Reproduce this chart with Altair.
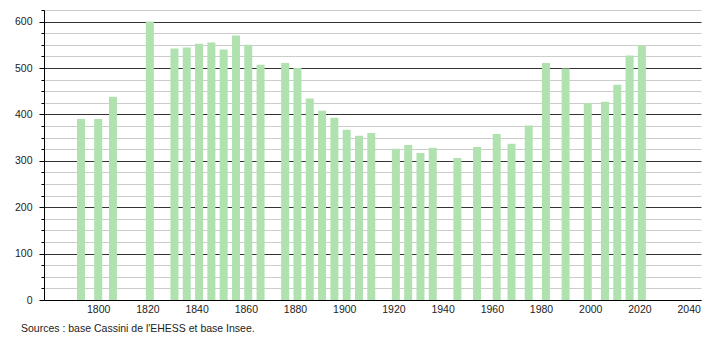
import altair as alt
import pandas as pd

years = [1793, 1800, 1806, 1821, 1831, 1836, 1841, 1846, 1851, 1856, 1861, 1866,
         1876, 1881, 1886, 1891, 1896, 1901, 1906, 1911, 1921, 1926, 1931, 1936,
         1946, 1954, 1962, 1968, 1975, 1982, 1990, 1999, 2006, 2011, 2016, 2021]
population = [390, 390, 438, 600, 542, 544, 552, 555, 540, 570, 550, 507,
              511, 500, 434, 408, 393, 367, 354, 360, 326, 334, 317, 328,
              306, 330, 358, 337, 376, 511, 499, 424, 427, 464, 527, 548]
x_ticks = list(range(1800, 2041, 20))
y_ticks = list(range(0, 626, 25))
source = "Sources : base Cassini de l'EHESS et base Insee."

df = pd.DataFrame({"year": years, "pop": population})
FONT = "Liberation Sans"
FS = 10.5

bars = alt.Chart(df).mark_bar(size=8, color="#b0e2b0").encode(
    x=alt.X("year:Q",
            scale=alt.Scale(domain=[1780, 2043], nice=False, zero=False),
            axis=alt.Axis(values=x_ticks, format="d", title=None, grid=False,
                          ticks=False, domainColor="#000", domainWidth=1,
                          labelFont=FONT, labelFontSize=FS, labelColor="#222",
                          labelPadding=4)),
    y=alt.Y("pop:Q",
            scale=alt.Scale(domain=[0, 625], nice=False),
            axis=alt.Axis(values=y_ticks, title=None, grid=True,
                          gridColor={"condition": {"test": "datum.value % 100 === 0", "value": "#333333"}, "value": "#cccccc"},
                          tickColor="#000",
                          tickSize={"condition": {"test": "datum.value % 100 === 0", "value": 5}, "value": 3},
                          labelExpr="datum.value % 100 === 0 ? datum.label : ''",
                          domainColor="#000", domainWidth=1,
                          labelFont=FONT, labelFontSize=FS, labelColor="#222",
                          labelPadding=7)),
)

note = alt.Chart(pd.DataFrame({"t": [source]})).mark_text(
    align="left", baseline="middle", font=FONT, fontSize=FS, color="#222"
).encode(text="t:N", x=alt.value(-23), y=alt.value(319))

chart = alt.layer(bars, note).properties(
    width=657, height=290,
    autosize=alt.AutoSizeParams(type="none"),
    padding={"left": 44, "top": 10, "right": 9, "bottom": 40},
).configure_view(stroke=None).configure_axis(gridWidth=1)

chart.save("out.html", embed_options={"renderer": "svg", "actions": False})
